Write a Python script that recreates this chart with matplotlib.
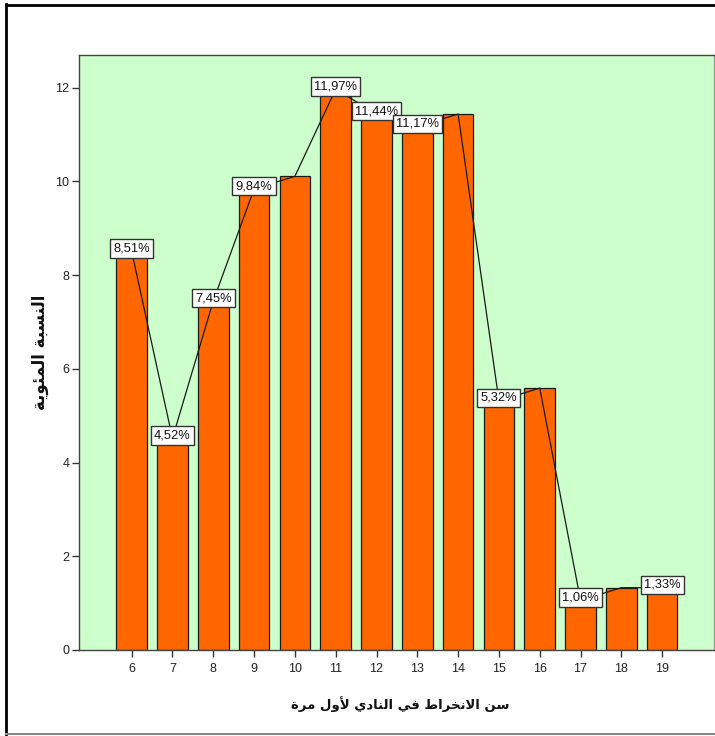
import matplotlib
matplotlib.use("Agg")
import matplotlib.pyplot as plt
from matplotlib.lines import Line2D

# Age at first enrolment in the club and share of members (%)
ages = [6, 7, 8, 9, 10, 11, 12, 13, 14, 15, 16, 17, 18, 19]
percents = [8.51, 4.52, 7.45, 9.84, 10.11, 11.97, 11.44, 11.17, 11.44,
            5.32, 5.59, 1.06, 1.33, 1.33]
show_label = [True, True, True, True, False, True, True, True, False,
              True, False, True, False, True]
y_ticks = [0, 2, 4, 6, 8, 10, 12]
x_title = "سن الانخراط في النادي لأول مرة"
y_title = "النسبة المئوية"

# Arabic contextual forms (isolated, final, initial, medial)
FORMS = {
    "ا": (0xFE8D, 0xFE8E, None, None),
    "أ": (0xFE83, 0xFE84, None, None),
    "ب": (0xFE8F, 0xFE90, 0xFE91, 0xFE92),
    "ة": (0xFE93, 0xFE94, None, None),
    "خ": (0xFEA5, 0xFEA6, 0xFEA7, 0xFEA8),
    "د": (0xFEA9, 0xFEAA, None, None),
    "ر": (0xFEAD, 0xFEAE, None, None),
    "س": (0xFEB1, 0xFEB2, 0xFEB3, 0xFEB4),
    "ط": (0xFEC1, 0xFEC2, 0xFEC3, 0xFEC4),
    "ف": (0xFED1, 0xFED2, 0xFED3, 0xFED4),
    "ل": (0xFEDD, 0xFEDE, 0xFEDF, 0xFEE0),
    "م": (0xFEE1, 0xFEE2, 0xFEE3, 0xFEE4),
    "ن": (0xFEE5, 0xFEE6, 0xFEE7, 0xFEE8),
    "و": (0xFEED, 0xFEEE, None, None),
    "ي": (0xFEF1, 0xFEF2, 0xFEF3, 0xFEF4),
    "ئ": (0xFE89, 0xFE8A, 0xFE8B, 0xFE8C),
}
LAM_ALEF = {"ا": (0xFEFB, 0xFEFC), "أ": (0xFEF7, 0xFEF8)}


def shape_arabic(text):
    """Join Arabic letters into presentation forms and lay them out right-to-left."""
    units = []
    i = 0
    while i < len(text):
        ch = text[i]
        if ch == "ل" and i + 1 < len(text) and text[i + 1] in LAM_ALEF:
            units.append(("LA", text[i + 1]))
            i += 2
        else:
            units.append((ch, None))
            i += 1

    def joins_next(u):
        if u[0] == "LA":
            return False
        f = FORMS.get(u[0])
        return f is not None and f[2] is not None

    def is_letter(u):
        return u[0] == "LA" or u[0] in FORMS

    out = []
    for k, u in enumerate(units):
        prev_j = k > 0 and joins_next(units[k - 1]) and is_letter(u)
        next_j = joins_next(u) and k + 1 < len(units) and is_letter(units[k + 1])
        ch, extra = u
        if ch == "LA":
            iso, fin = LAM_ALEF[extra]
            out.append(chr(fin if prev_j else iso))
        elif ch in FORMS:
            iso, fin, ini, med = FORMS[ch]
            if prev_j and next_j:
                c = med
            elif prev_j:
                c = fin
            elif next_j:
                c = ini
            else:
                c = iso
            out.append(chr(c))
        else:
            out.append(ch)
    return "".join(reversed(out))


plt.rcParams["font.family"] = ["Liberation Sans", "DejaVu Sans"]

fig = plt.figure(figsize=(7.15, 7.36), dpi=100)
ax = fig.add_axes([79 / 715, 86 / 736, 635 / 715, 595 / 736])
ax.set_facecolor("#CCFFCC")

ax.bar(ages, percents, width=0.75, color="#FF6600", edgecolor="#1a1a1a",
       linewidth=0.9, zorder=2)
ax.plot(ages, percents, color="#1a1a1a", linewidth=0.9, zorder=3)

for a, p, s in zip(ages, percents, show_label):
    if not s:
        continue
    ax.annotate(f"{p:.2f}".replace(".", ",") + "%", (a, p),
                xytext=(0, 2), textcoords="offset points",
                ha="center", va="center", fontsize=9.3, color="#111111",
                bbox=dict(boxstyle="square,pad=0.25", facecolor="white",
                          edgecolor="#333333", linewidth=1.0),
                zorder=4)

ax.set_xlim(4.71, 20.27)
ax.set_ylim(0, 12.7)
ax.set_xticks(ages)
ax.set_xticklabels([str(a) for a in ages])
ax.set_yticks(y_ticks)
ax.set_yticklabels([str(t) for t in y_ticks])
ax.tick_params(axis="both", direction="out", length=5, width=1,
               color="#333333", labelsize=9, labelcolor="#222222")
ax.tick_params(axis="x", pad=4)
ax.tick_params(axis="y", pad=2)

for side in ["left", "bottom", "top"]:
    ax.spines[side].set_color("#444444")
    ax.spines[side].set_linewidth(1.0)
ax.spines["right"].set_color("#999999")
ax.spines["right"].set_linewidth(1.0)

fig.text(400 / 715, 1 - 704 / 736, shape_arabic(x_title), ha="center",
         va="center", fontsize=9.5, fontweight="bold", family=["DejaVu Sans"],
         color="#111111")
fig.text(40 / 715, 1 - 352 / 736, shape_arabic(y_title), ha="center",
         va="center", rotation=90, fontsize=12, fontweight="bold",
         family=["DejaVu Sans"], color="#111111")

# chart frame
fig.add_artist(Line2D([6 / 715, 6 / 715], [1 - 4 / 736, 1 - 735 / 736],
                      transform=fig.transFigure, color="black", linewidth=2))
fig.add_artist(Line2D([6 / 715, 1.0], [1 - 5 / 736, 1 - 5 / 736],
                      transform=fig.transFigure, color="black", linewidth=2))
fig.add_artist(Line2D([6 / 715, 1.0], [1 - 734 / 736, 1 - 734 / 736],
                      transform=fig.transFigure, color="#888888", linewidth=1.5))

fig.savefig("out.png", dpi=100, facecolor="white")
